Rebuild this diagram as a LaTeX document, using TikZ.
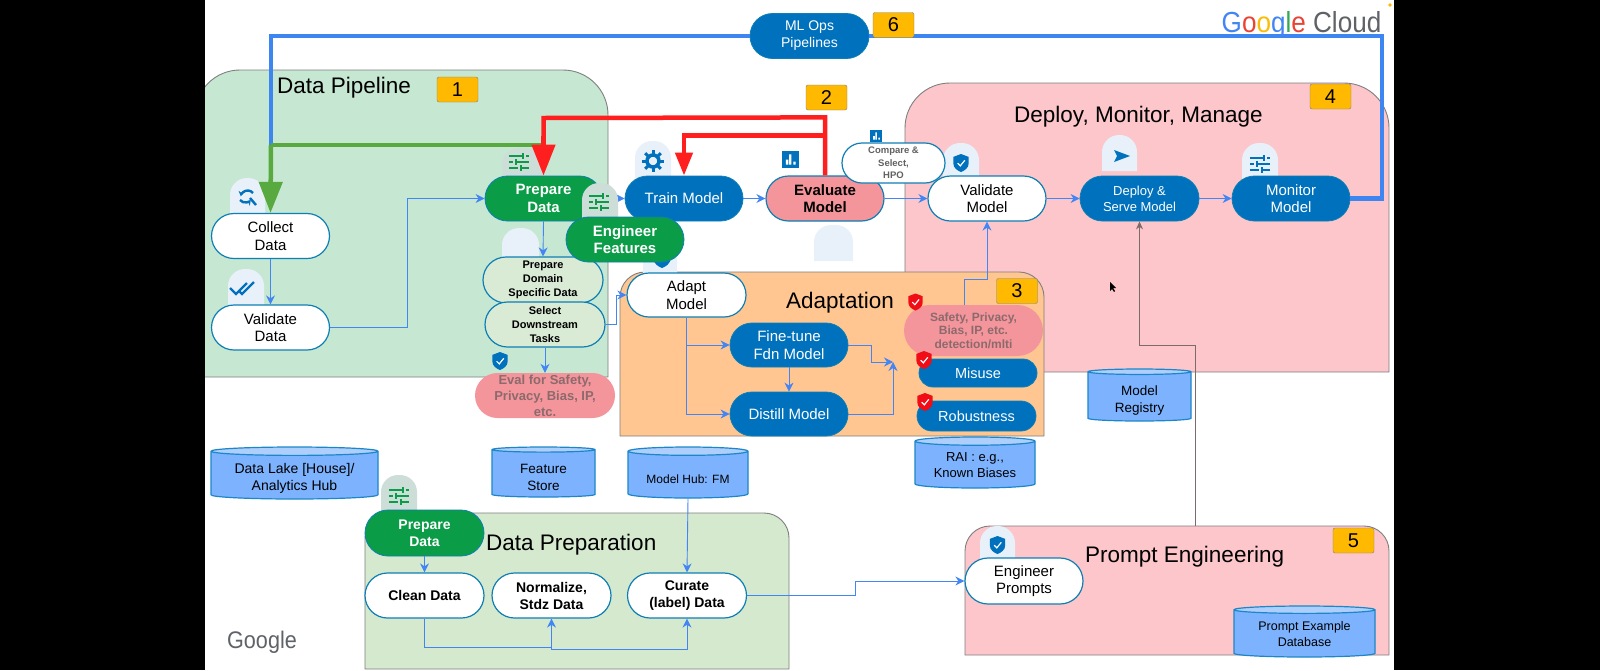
\documentclass[tikz,border=0pt]{standalone}
\usepackage{fontspec}
\setmainfont{Liberation Sans}
\usetikzlibrary{arrows.meta,shapes.misc,shapes.geometric}
\definecolor{pipelinebg}{HTML}{C6E8D2}
\definecolor{prepbg}{HTML}{D5E9CF}
\definecolor{deploybg}{HTML}{FCC6CA}
\definecolor{adaptbg}{HTML}{FFC692}
\definecolor{panelline}{HTML}{7F7F7F}
\definecolor{pillblue}{HTML}{0071BC}
\definecolor{pillgreen}{HTML}{0A9C46}
\definecolor{pillline}{HTML}{0E7FB5}
\definecolor{pillpink}{HTML}{F4959C}
\definecolor{pilldomain}{HTML}{D9EAD5}
\definecolor{fadedtext}{HTML}{8C6A6C}
\definecolor{storebody}{HTML}{7DB2FE}
\definecolor{storetop}{HTML}{AECFFC}
\definecolor{storeline}{HTML}{1B86C8}
\definecolor{numfill}{HTML}{FFB900}
\definecolor{tabblue}{HTML}{E8F0FA}
\definecolor{tabgreen}{HTML}{CDDED8}
\definecolor{arrblue}{HTML}{4285F4}
\definecolor{pipeblue}{HTML}{3D85F0}
\definecolor{pipegreen}{HTML}{58A93F}
\definecolor{pipered}{HTML}{FF1F1F}
\definecolor{promptarr}{HTML}{7D6B6B}
\definecolor{shieldred}{HTML}{F00D16}
\definecolor{logogrey}{HTML}{5F6368}
\definecolor{logored}{HTML}{EA4335}
\definecolor{logoyellow}{HTML}{FBBC05}
\definecolor{logogreen}{HTML}{34A853}
\newcommand{\fs}[2]{\fontsize{#1}{#2}\selectfont}
\newcommand{\lowline}{\rule{0pt}{17pt}}
\newcommand{\icontab}[5]{\fill[#5] (#1,#4) [rounded corners=17pt] -- (#1,#3) -- (#2,#3) [sharp corners] -- (#2,#4) -- cycle;}
\newcommand{\slidermark}[3]{\begin{scope}[shift={(#1,#2)},color=#3,line width=1.7pt]
  \draw (-10,-6) -- (3,-6) (7,-6) -- (10,-6) (4,-9) -- (4,-3);
  \draw (-10,0) -- (-6,0) (-2,0) -- (10,0) (-3,-3) -- (-3,3);
  \draw (-10,6) -- (-1,6) (3,6) -- (10,6) (2,3) -- (2,9);
\end{scope}}
\newcommand{\shieldmark}[4]{\begin{scope}[shift={(#1,#2)},x=#3pt,y=-#3pt]
  \fill[#4] (0,-1) -- (-.85,-.68) -- (-.85,.05) .. controls (-.85,.55) and (-.4,.85) .. (0,1) .. controls (.4,.85) and (.85,.55) .. (.85,.05) -- (.85,-.68) -- cycle;
  \draw[white,line width=1.2pt] (-.38,.02) -- (-.08,.32) -- (.42,-.3);
\end{scope}}
\newcommand{\chartmark}[3]{\begin{scope}[shift={(#1,#2)},x=#3pt,y=-#3pt]
  \fill[pillblue] (-1,-1) rectangle (1,1);
  \fill[white] (-.5,.6) rectangle (-.2,0) (-.1,.6) rectangle (.15,-.6) (.4,.6) rectangle (.65,.25);
\end{scope}}
\tikzset{
  panel/.style={draw=panelline, line width=.9pt},
  pillbox/.style={rounded rectangle, minimum width=118pt, minimum height=45pt, inner sep=0pt,
                  align=center, font=\fs{15}{17.5}},
  whitebox/.style={pillbox, draw=pillline, line width=1.2pt, fill=white},
  bluebox/.style={pillbox, draw=pillline, line width=.8pt, fill=pillblue, text=white},
  greenbox/.style={pillbox, draw=pillline, line width=.8pt, fill=pillgreen, text=white, font=\fs{15}{17.5}\bfseries},
  domainbox/.style={pillbox, draw=pillline, line width=1.2pt, fill=pilldomain, font=\fs{11}{14}\bfseries},
  pinkbox/.style={pillbox, fill=pillpink, text=fadedtext, font=\fs{13}{16}\bfseries},
  storebox/.style={cylinder, shape border rotate=90, anchor=shape center, draw=storeline, line width=1.2pt,
                   cylinder uses custom fill, cylinder body fill=storebody, cylinder end fill=storetop,
                   inner sep=0pt, align=center, font=\fs{13.5}{17}},
  numbox/.style={draw=panelline, fill=numfill, rounded corners=2pt, minimum width=41pt, minimum height=25pt,
                 inner sep=0pt, font=\fs{20}{20}},
  titletext/.style={anchor=base west, inner sep=0pt, font=\fs{22.5}{25}},
  arr/.style={-{Stealth[length=9pt,width=9pt]}, line width=.9pt, color=arrblue},
  greyarr/.style={-{Stealth[length=8pt,width=7pt]}, line width=.9pt, color=promptarr},
  bluepipe/.style={line width=4.5pt, color=pipeblue},
  greenpipe/.style={line width=4.5pt, color=pipegreen},
  greenhead/.style={greenpipe, -{Triangle[length=31pt,width=23pt]}},
  redpipe/.style={line width=4.5pt, color=pipered},
  redhead/.style={redpipe, -{Triangle[length=31pt,width=23pt]}},
  redhead2/.style={redpipe, -{Triangle[length=23pt,width=17pt]}}}
\begin{document}
\begin{tikzpicture}[x=1pt,y=-1pt]
  \useasboundingbox (0,0) rectangle (1600,670);
  \fill[white] (0,0) rectangle (1600,670);
  \draw[panel, fill=deploybg] (905,372) [rounded corners=45pt] -- (905,83) -- (1389,83) [sharp corners] -- (1389,372) -- cycle;
  \draw[panel, fill=pipelinebg] (195,377) [rounded corners=45pt] -- (195,70) -- (608,70) [sharp corners] -- (608,377) -- cycle;
  \draw[panel, fill=adaptbg] (620,436) [rounded corners=25pt] -- (620,272) -- (1044,272) [sharp corners] -- (1044,436) -- cycle;
  \draw[panel, fill=prepbg] (365,669) [rounded corners=25pt] -- (365,513) -- (789,513) [sharp corners] -- (789,669) -- cycle;
  \draw[panel, fill=deploybg] (965,655) [rounded corners=25pt] -- (965,526) -- (1389,526) [sharp corners] -- (1389,655) -- cycle;
  \coordinate (prompttop) at (1195,526);
  \node[titletext] (pipelinetitle) at (277,93) {Data Pipeline};
  \node[titletext] (deploytitle) at (1014,122) {Deploy, Monitor, Manage};
  \node[titletext] (adapttitle) at (786,308) {Adaptation};
  \node[titletext] (preptitle) at (486,550) {Data Preparation};
  \node[titletext] (prompttitle) at (1085,562) {Prompt Engineering};
  \icontab{230}{265}{178}{214}{tabblue}
  \icontab{228}{264}{269}{305}{tabblue}
  \icontab{502}{543}{148}{178}{tabgreen}
  \icontab{635}{671}{141}{178}{tabblue}
  \icontab{943}{979}{143}{178}{tabblue}
  \icontab{1102}{1137}{135}{171}{tabblue}
  \icontab{1242}{1278}{143}{179}{tabblue}
  \icontab{502}{539}{228}{258}{tabblue}
  \icontab{814}{853}{225}{261}{tabblue}
  \icontab{643}{677}{240}{275}{tabblue}
  \icontab{381}{417}{475}{512}{tabgreen}
  \icontab{980}{1015}{526}{560}{tabblue}
  \slidermark{519}{162}{pillgreen}
  \slidermark{399}{496}{pillgreen}
  \slidermark{1260}{164}{pillblue}
  \shieldmark{961}{163}{9}{pillblue}
  \shieldmark{997.5}{545}{9}{pillblue}
  \shieldmark{662}{258}{10}{pillblue}
  \shieldmark{500}{361}{9}{pillblue}
  \chartmark{790}{159.5}{8.5}
  \chartmark{876}{136}{6}
  \fill[pillblue] (1114,150) -- (1130,156) -- (1114,162) -- (1117,156) -- cycle;
  \foreach \ang in {0,45,...,315}
    \draw[pillblue, line width=3pt] (653,161) ++(\ang:7pt) -- ++(\ang:4pt);
  \draw[pillblue, line width=3.5pt] (653,161) circle[radius=6pt];
  \draw[pillblue, line width=2.4pt, -{Stealth[length=5pt,width=6pt]}] (253,193) arc[start angle=40, end angle=170, radius=7pt];
  \draw[pillblue, line width=2.4pt, -{Stealth[length=5pt,width=6pt]}] (240,200) arc[start angle=220, end angle=320, radius=7pt];
  \draw[pillblue, line width=2.4pt] (250,198) -- (256,205);
  \draw[pillblue, line width=2.2pt] (230,288) -- (236,294) -- (247,283) (239,291) -- (242,294) -- (254,282);
  \node[whitebox] (collect) at (270.5,236) {Collect\\Data};
  \node[whitebox] (validatedata) at (270.5,327.5) {Validate\\Data};
  \node[greenbox, minimum width=117pt] (prepare) at (543.5,198.5) {Prepare\\Data};
  \node[domainbox, minimum width=120pt, minimum height=46pt] (domain) at (543,280) {Prepare\\Domain\\Specific Data};
  \node[domainbox, minimum width=120pt] (select) at (545,324.5) {Select\\Downstream\\Tasks};
  \node[pinkbox, minimum width=140pt] (evalsafety) at (545,395.5) {Eval for Safety,\\Privacy, Bias, IP,\\etc.};
  \node[bluebox] (train) at (684,198.5) {Train Model};
  \node[pillbox, draw=pillline, line width=1.2pt, fill=pillpink, font=\fs{15}{17.5}\bfseries] (evaluate) at (825,198.5) {Evaluate\\Model};
  \node[whitebox] (validate) at (987,198.5) {Validate\\Model};
  \node[bluebox, minimum width=119pt, font=\fs{13}{16}] (deploy) at (1139.5,198.5) {Deploy \&\\Serve Model};
  \node[bluebox] (monitor) at (1291,198.5) {Monitor\\Model};
  \node[bluebox, minimum width=119pt, font=\fs{14}{17}] (mlops) at (809.5,36) {ML Ops\\Pipelines};
  \node[whitebox, minimum width=119pt, minimum height=44pt] (adapt) at (686.5,295) {Adapt\\Model};
  \node[bluebox, minimum height=44pt] (finetune) at (789,345) {Fine-tune\\Fdn Model};
  \node[bluebox, minimum height=44pt] (distill) at (789,414) {Distill Model};
  \node[pinkbox, minimum width=139pt, minimum height=51pt, font=\fs{12}{13.7}\bfseries] (safety) at (973.5,330.5) {Safety, Privacy,\\Bias, IP, etc.\\detection/mlti};
  \node[bluebox, minimum height=28pt, font=\fs{14.5}{17}] (misuse) at (978,373) {Misuse};
  \node[bluebox, minimum width=119pt, minimum height=30pt, font=\fs{14.5}{17}] (robustness) at (976.5,416) {Robustness};
  \node[greenbox, minimum width=119pt, minimum height=46pt, font=\fs{14}{17}\bfseries] (prepareagain) at (424.5,533) {Prepare\\Data};
  \node[whitebox, minimum width=119pt, font=\fs{14}{17}\bfseries] (clean) at (424.5,595.5) {Clean Data};
  \node[whitebox, minimum width=119pt, font=\fs{14}{17}\bfseries] (normalize) at (551.5,595.5) {Normalize,\\Stdz Data};
  \node[whitebox, minimum width=119pt, font=\fs{14}{17}\bfseries] (curate) at (687,595.5) {Curate\\(label) Data};
  \node[whitebox, minimum height=46pt] (engprompts) at (1024,581) {Engineer\\Prompts};
  \node[storebox, minimum height=52pt, minimum width=167pt, shape aspect=.07, font=\fs{14}{17}] (datalake) at (294.5,473) {\lowline Data Lake [House]/\\Analytics Hub};
  \node[storebox, minimum height=50pt, minimum width=103pt, shape aspect=.11] (featurestore) at (543.5,472) {\lowline Feature\\Store};
  \node[storebox, minimum height=51pt, minimum width=120pt, shape aspect=.1, font=\fs{12}{15}] (modelhub) at (688,472.5) {\lowline Model Hub: FM};
  \node[storebox, minimum height=51pt, minimum width=120pt, shape aspect=.1, font=\fs{13}{16}] (rai) at (975,462.5) {RAI : e.g.,\\Known Biases};
  \node[storebox, minimum height=52pt, minimum width=103pt, shape aspect=.11] (registry) at (1139.5,395) {\lowline Model\\Registry};
  \node[storebox, minimum height=51pt, minimum width=141pt, shape aspect=.08, font=\fs{12.5}{16}] (promptdb) at (1304.5,631.5) {Prompt Example\\Database};
  \coordinate (pipebend) at (271,145);
  \coordinate (adaptjoin) at (893,362);
  \draw[bluepipe] (monitor.east) -- (1382,198.5) |- (mlops.east);
  \draw[bluepipe] (mlops.west) -| (pipebend);
  \draw[greenpipe] (pipebend) -- (prepare.north |- pipebend);
  \draw[greenhead] (pipebend) -- (collect.north);
  \draw[redpipe] (evaluate.north) -- ++(0,-58) -- (prepare.north |- 0,118) -- ++(0,20);
  \draw[redhead] (prepare.north |- 0,136) -- (prepare.north);
  \draw[redhead2] (evaluate.north) -- ++(0,-40) -| (train.north);
  \draw[arr] (collect.south) -- (validatedata.north);
  \draw[arr] (validatedata.east) -- (407.5,327.5) |- (prepare.west);
  \draw[arr] (prepare.south) -- (domain.north);
  \draw[arr] (select.south) -- (evalsafety.north);
  \draw[arr] (select.east) -- ++(11,0) |- (adapt.west);
  \draw[arr] (prepare.east) -- (train.west);
  \draw[arr] (train.east) -- (evaluate.west);
  \draw[arr] (evaluate.east) -- (validate.west);
  \draw[arr] (validate.east) -- (deploy.west);
  \draw[arr] (deploy.east) -- (monitor.west);
  \draw[arr] (adapt.south) |- (finetune.west);
  \draw[arr] (adapt.south) |- (distill.west);
  \draw[arr] (finetune.south) -- (distill.north);
  \draw[arr] (finetune.east) -- (871,345) |- (adaptjoin);
  \draw[arr] (distill.east) -| (adaptjoin);
  \draw[arr] ([xshift=-9.5pt]safety.north) -- ++(0,-25) -| (validate.south);
  \draw[greyarr] (prompttop) -- (1195,345) -| (deploy.south);
  \draw[arr] (prepareagain.south) -- (clean.north);
  \draw[arr] (clean.south) -- (424.5,647) -| (normalize.south);
  \draw[arr] (clean.south) -- (424.5,647) -- (551.5,647) -- (551.5,649) -| (curate.south);
  \draw[arr] (modelhub.south) -- (curate.north);
  \draw[arr] (curate.east) -- (855,595.5) |- (engprompts.west);
  \icontab{582}{618}{183}{222}{tabgreen}
  \slidermark{599}{202}{pillgreen}
  \node[greenbox] (engineer) at (625,239.5) {Engineer\\Features};
  \node[whitebox, minimum width=103pt, minimum height=40pt, text=black!62, font=\fs{9.5}{12.3}\bfseries] (compare) at (893.5,163) {Compare \&\\Select,\\HPO};
  \shieldmark{915.5}{302}{8.5}{shieldred}
  \shieldmark{924}{360}{9}{shieldred}
  \shieldmark{925}{402}{9}{shieldred}
  \node[numbox] (numone) at (457.5,89.5) {1};
  \node[numbox] (numtwo) at (826.5,97.5) {2};
  \node[numbox] (numthree) at (1017,291) {3};
  \node[numbox] (numfour) at (1330.5,96.5) {4};
  \node[numbox] (numfive) at (1353.5,540.5) {5};
  \node[numbox] (numsix) at (893.5,25) {6};
  \fill[black] (1110,282) -- (1110,291) -- (1112,289) -- (1114,292) -- (1115,291) -- (1113,288) -- (1116,288) -- cycle;
  \node[anchor=base, inner sep=0pt, font=\fs{29}{29}] (cloudlogo) at (1301.5,32) {\scalebox{.9}[1]{\textcolor{arrblue}{G}\textcolor{logored}{o}\textcolor{logoyellow}{o}\textcolor{arrblue}{g}\textcolor{logogreen}{l}\textcolor{logored}{e} \textcolor{logogrey}{Cloud}}};
  \node[anchor=base, inner sep=0pt, font=\fs{24}{24}, text=logogrey] (googlelogo) at (262,648) {\scalebox{.9}[1]{Google}};
  \fill[black] (0,0) rectangle (205,670);
  \fill[black] (1394,0) rectangle (1600,670);
  \fill[numfill] (1390,5) circle[radius=1.8pt];
\end{tikzpicture}
\end{document}
